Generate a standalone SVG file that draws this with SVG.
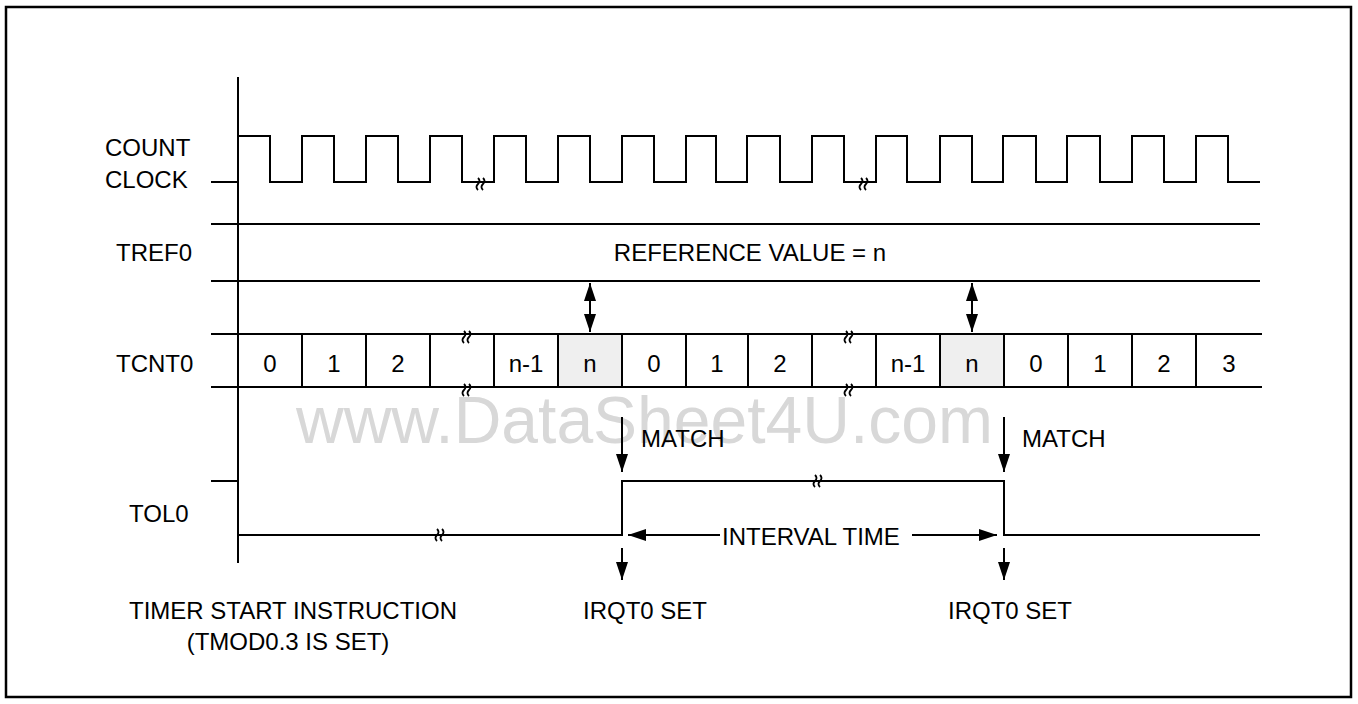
<svg xmlns="http://www.w3.org/2000/svg" width="1358" height="704" viewBox="0 0 1358 704">
<style>
  .ln{fill:none;stroke:#000;stroke-width:2}
  .brk{fill:none;stroke:#000;stroke-width:1.8}
  text{font-family:"Liberation Sans",Arial,sans-serif;font-size:24px;fill:#000}
  .c{text-anchor:middle}
  .wm{font-size:66px;fill:#d8d8d8}
</style>
<defs>
  <marker id="ah" viewBox="0 0 18 12" refX="18" refY="6" markerWidth="18" markerHeight="12" markerUnits="userSpaceOnUse" orient="auto-start-reverse">
    <path d="M0,0 L18,6 L0,12 Z" fill="#000"/>
  </marker>
  <g id="bk"><path class="brk" d="M-2,-6 q3,3 0,6 q-3,3 0,6 M3,-6 q3,3 0,6 q-3,3 0,6"/></g>
</defs>
<rect x="6" y="7" width="1345" height="690" fill="#fff" stroke="#000" stroke-width="2.5"/>
<text class="wm" x="296" y="443">www.DataSheet4U.com</text>

<g id="axis"><path class="ln" d="M238,77 V563"/></g>

<g id="count-clock">
  <text x="105" y="156">COUNT</text>
  <text x="105" y="188">CLOCK</text>
  <path class="ln" d="M211,182 H238 V136 H270 V182 H302 V136 H334 V182 H366 V136 H398 V182 H430 V136 H462 V182 H494 V136 H526 V182 H558 V136 H590 V182 H622 V136 H654 V182 H686 V136 H716 V182 H747 V136 H780 V182 H812 V136 H844 V182 H876 V136 H907 V182 H940 V136 H972 V182 H1003 V136 H1036 V182 H1067 V136 H1100 V182 H1132 V136 H1164 V182 H1196 V136 H1228 V182 H1260"/>
  <use href="#bk" x="480" y="184"/>
  <use href="#bk" x="863" y="184"/>
</g>

<g id="tref0">
  <text x="116" y="261">TREF0</text>
  <path class="ln" d="M211,224 H1260 M211,281 H1260"/>
  <text class="c" x="750" y="261">REFERENCE VALUE = n</text>
</g>

<g id="tcnt0">
  <text x="116" y="372">TCNT0</text>
  <rect x="558" y="334" width="64" height="53" fill="#efefef"/>
  <rect x="940" y="334" width="64" height="53" fill="#efefef"/>
  <path class="ln" d="M211,334 H1262 M211,387 H1262 M302,334 V387 M366,334 V387 M430,334 V387 M494,334 V387 M558,334 V387 M622,334 V387 M686,334 V387 M748,334 V387 M812,334 V387 M876,334 V387 M940,334 V387 M1004,334 V387 M1068,334 V387 M1132,334 V387 M1196,334 V387"/>
  <text class="c" x="270" y="372">0</text>
  <text class="c" x="334" y="372">1</text>
  <text class="c" x="398" y="372">2</text>
  <text class="c" x="526" y="372">n-1</text>
  <text class="c" x="590" y="372">n</text>
  <text class="c" x="654" y="372">0</text>
  <text class="c" x="717" y="372">1</text>
  <text class="c" x="780" y="372">2</text>
  <text class="c" x="908" y="372">n-1</text>
  <text class="c" x="972" y="372">n</text>
  <text class="c" x="1036" y="372">0</text>
  <text class="c" x="1100" y="372">1</text>
  <text class="c" x="1164" y="372">2</text>
  <text class="c" x="1229" y="372">3</text>
  <use href="#bk" x="466" y="337"/>
  <use href="#bk" x="466" y="390"/>
  <use href="#bk" x="848" y="337"/>
  <use href="#bk" x="848" y="390"/>
</g>

<g id="tol0">
  <text x="129" y="522">TOL0</text>
  <path class="ln" d="M211,481 H238 M238,535 H622 V481 H1004 V535 H1260"/>
  <use href="#bk" x="439" y="535"/>
  <use href="#bk" x="817" y="481"/>
</g>

<g id="connectors">
  <path class="ln" d="M590,283 V332" marker-start="url(#ah)" marker-end="url(#ah)"/>
  <path class="ln" d="M972,283 V332" marker-start="url(#ah)" marker-end="url(#ah)"/>
  <path class="ln" d="M622,417 V472" marker-end="url(#ah)"/>
  <path class="ln" d="M1004,417 V472" marker-end="url(#ah)"/>
  <path class="ln" d="M622,548 V580" marker-end="url(#ah)"/>
  <path class="ln" d="M1004,548 V580" marker-end="url(#ah)"/>
  <path class="ln" d="M720,535 H628" marker-end="url(#ah)"/>
  <path class="ln" d="M912,535 H997" marker-end="url(#ah)"/>
</g>

<g id="labels">
  <text x="641" y="447">MATCH</text>
  <text x="1022" y="447">MATCH</text>
  <text x="722" y="545">INTERVAL TIME</text>
  <text x="583" y="619">IRQT0 SET</text>
  <text x="948" y="619">IRQT0 SET</text>
  <text class="c" x="293" y="619">TIMER START INSTRUCTION</text>
  <text class="c" x="288" y="650">(TMOD0.3 IS SET)</text>
</g>
</svg>
